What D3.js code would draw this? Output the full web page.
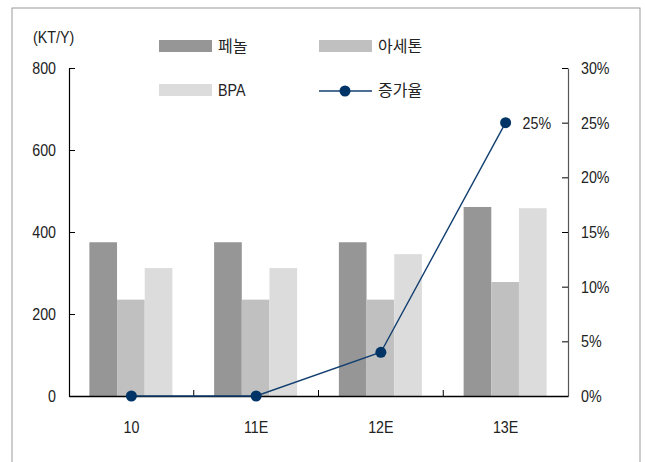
<!DOCTYPE html>
<html>
<head>
<meta charset="utf-8">
<script src="https://cdn.jsdelivr.net/npm/d3@7"></script>
<style>
  body { margin: 0; background: #fff; }
  svg { display: block; }
</style>
</head>
<body>
<div id="chart"></div>
<script>
// Data
const categories = ["10", "11E", "12E", "13E"];
const seriesNames = ["페놀", "아세톤", "BPA"];
const phenol = [375, 375, 375, 461];
const acetone = [235, 235, 235, 278];
const bpa = [312, 312, 346, 458];
const growth = [0, 0, 4, 25];   // %
const leftTicks = [0, 200, 400, 600, 800];
const rightTicks = [0, 5, 10, 15, 20, 25, 30];

const width = 645, height = 462;
const margin = { top: 68, bottom: 66, left: 69, right: 77 };
const numFont = "'Liberation Sans', Arial, sans-serif";
const korFont = "'Noto Sans CJK KR', sans-serif";
const colors = ["#969696", "#c0c0c0", "#dcdcdc"];
const lineColor = "#123f70";
const dotColor = "#003366";
const squeeze = 0.84;   // no narrow font installed, so squeeze the numbers

// squeeze text horizontally, keeping its anchor point in place
function narrow(sel) {
  sel.each(function() {
    const t = d3.select(this);
    const x = +t.attr('x') || 0;
    t.attr('x', x / squeeze).attr('transform', `scale(${squeeze},1)`);
  });
}

let svg = d3.select('#chart')
  .append('svg')
  .attr('width', width)
  .attr('height', height);

// outer frame
svg.append('rect')
  .attr('x', 12).attr('y', 8)
  .attr('width', 628).attr('height', 470)
  .attr('fill', 'none')
  .attr('stroke', '#9a9a9a')
  .attr('stroke-width', 1);

let x0 = d3.scaleBand()
  .domain(categories)
  .range([margin.left, width - margin.right]);

let x1 = d3.scaleBand()
  .domain(seriesNames)
  .range([0, 83]);

let y = d3.scaleLinear()
  .domain([0, 800])
  .range([height - margin.bottom, margin.top]);

let yR = d3.scaleLinear()
  .domain([0, 30])
  .range([height - margin.bottom, margin.top]);

const baseY = height - margin.bottom;

// bars
const table = categories.map((c, i) => ({
  cat: c,
  values: [phenol[i], acetone[i], bpa[i]]
}));

const groups = svg.selectAll('.grp')
  .data(table)
  .enter()
  .append('g')
  .attr('transform', d => `translate(${x0(d.cat) + x0.bandwidth() / 2 - 42},0)`);

groups.selectAll('rect')
  .data(d => d.values.map((v, j) => ({ name: seriesNames[j], v: v, j: j })))
  .enter()
  .append('rect')
  .attr('x', d => x1(d.name))
  .attr('y', d => y(d.v))
  .attr('width', x1.bandwidth())
  .attr('height', d => baseY - y(d.v))
  .attr('fill', d => colors[d.j]);

// left axis
let leftAxis = svg.append('g')
  .attr('transform', `translate(${margin.left},0)`)
  .call(d3.axisLeft(y).tickValues(leftTicks).tickSizeInner(-6).tickSizeOuter(0).tickPadding(13));
leftAxis.select('.domain').attr('stroke', '#000').attr('stroke-width', 1.2);
leftAxis.selectAll('.tick line').attr('stroke', '#000');
leftAxis.selectAll('text')
  .style('font-family', numFont).style('font-size', '17px').attr('fill', '#222')
  .call(narrow);

// right axis
let rightAxis = svg.append('g')
  .attr('transform', `translate(${width - margin.right},0)`)
  .call(d3.axisRight(yR).tickValues(rightTicks).tickFormat(d => d + '%')
    .tickSizeInner(-6).tickSizeOuter(0).tickPadding(13));
rightAxis.select('.domain').attr('stroke', '#555').attr('stroke-width', 1.2);
rightAxis.selectAll('.tick line').attr('stroke', '#000');
rightAxis.selectAll('text')
  .style('font-family', numFont).style('font-size', '17px').attr('fill', '#222')
  .call(narrow);

// bottom axis
let xAxis = svg.append('g')
  .attr('transform', `translate(0,${baseY})`)
  .call(d3.axisBottom(x0).tickSize(0).tickPadding(25));
xAxis.select('.domain').attr('stroke', '#000').attr('stroke-width', 1.5);
xAxis.selectAll('text')
  .style('font-family', numFont).style('font-size', '17px').attr('fill', '#222')
  .call(narrow);

// category dividers (inward ticks)
svg.append('g')
  .selectAll('line')
  .data(categories.slice(1))
  .enter()
  .append('line')
  .attr('x1', d => x0(d)).attr('x2', d => x0(d))
  .attr('y1', baseY).attr('y2', baseY - 6)
  .attr('stroke', '#000');

// unit label
svg.append('text')
  .text('(KT/Y)')
  .attr('x', 33).attr('y', 43)
  .style('font-family', numFont).style('font-size', '17px').attr('fill', '#222')
  .call(narrow);

// growth line
const cx = d => x0(d) + x0.bandwidth() / 2;
let line = d3.line()
  .x((d, i) => cx(categories[i]))
  .y(d => yR(d));

svg.append('path')
  .datum(growth)
  .attr('d', line)
  .attr('fill', 'none')
  .attr('stroke', lineColor)
  .attr('stroke-width', 1.4);

svg.selectAll('.dot')
  .data(growth)
  .enter()
  .append('circle')
  .attr('cx', (d, i) => cx(categories[i]))
  .attr('cy', d => yR(d))
  .attr('r', 5.5)
  .attr('fill', dotColor);

// label for last point
svg.append('text')
  .text(growth[3] + '%')
  .attr('x', cx(categories[3]) + 17)
  .attr('y', yR(growth[3]) + 6)
  .style('font-family', numFont).style('font-size', '17px').attr('fill', '#222')
  .call(narrow);

// legend
const legend = [
  { name: seriesNames[0], x: 159, y: 46, type: 'bar', color: colors[0] },
  { name: seriesNames[1], x: 319, y: 46, type: 'bar', color: colors[1] },
  { name: seriesNames[2], x: 159, y: 90, type: 'bar', color: colors[2] },
  { name: '증가율', x: 319, y: 90, type: 'line' }
];
legend.forEach(l => {
  if (l.type === 'bar') {
    svg.append('rect')
      .attr('x', l.x).attr('y', l.y - 6)
      .attr('width', 53).attr('height', 12)
      .attr('fill', l.color);
  } else {
    svg.append('line')
      .attr('x1', l.x).attr('x2', l.x + 53)
      .attr('y1', l.y + 1).attr('y2', l.y + 1)
      .attr('stroke', lineColor).attr('stroke-width', 1.4);
    svg.append('circle')
      .attr('cx', l.x + 26).attr('cy', l.y + 1).attr('r', 5.5)
      .attr('fill', dotColor);
  }
  let t = svg.append('text')
    .text(l.name)
    .attr('x', l.x + 59)
    .attr('y', l.y + 6)
    .style('font-family', l.name === 'BPA' ? numFont : korFont)
    .style('font-size', l.name === 'BPA' ? '17px' : '16px')
    .attr('fill', '#222');
  if (l.name === 'BPA') t.call(narrow);
});
</script>
</body>
</html>
